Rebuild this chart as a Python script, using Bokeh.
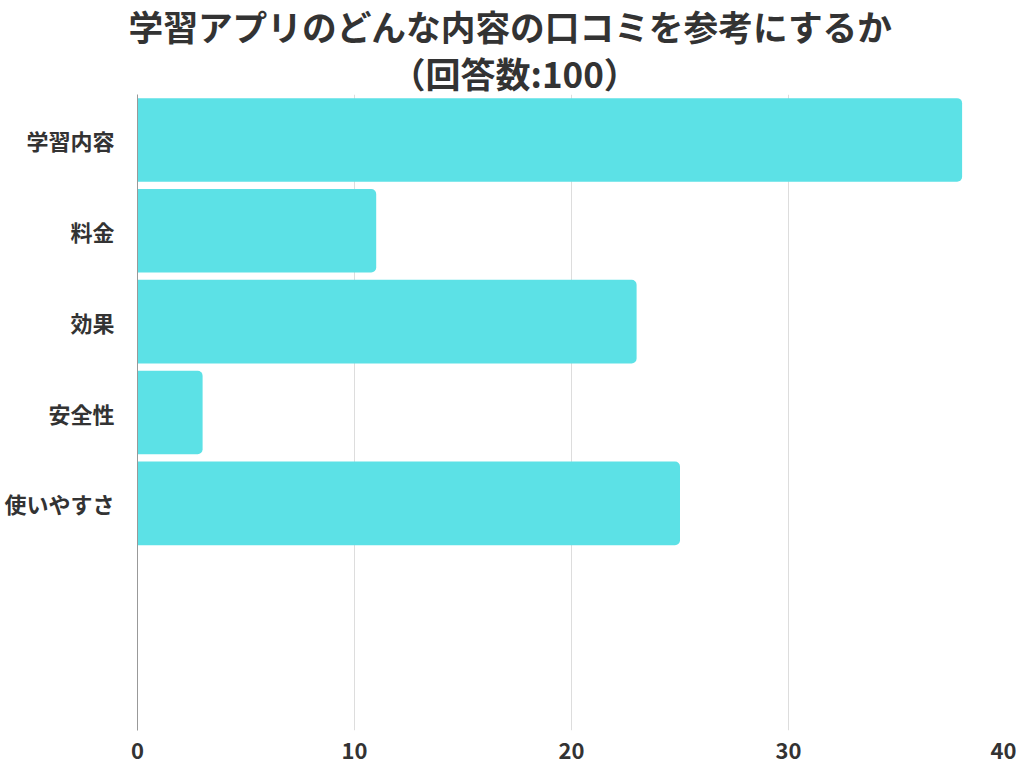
from bokeh.plotting import figure
from bokeh.models import Range1d, FixedTicker, Title, ColumnDataSource
from bokeh.embed import file_html
from bokeh.resources import INLINE

categories = ["学習内容", "料金", "効果", "安全性", "使いやすさ"]
values = [38, 11, 23, 3, 25]
x_ticks = [0, 10, 20, 30, 40]
title_line1 = "学習アプリのどんな内容の口コミを参考にするか"
title_line2 = "（回答数:100）"

positions = list(range(1, len(categories) + 1))
n_slots = 7

src = ColumnDataSource(dict(y=positions, v=values, cat=categories))

p = figure(width=1016, height=764, output_backend="svg", toolbar_location=None,
           x_range=Range1d(0, 40), y_range=Range1d(n_slots + 0.5, 0.5),
           min_border_left=137, min_border_right=11, min_border_bottom=34, min_border_top=0)

FONT = "Noto Sans CJK JP"
TXT = "#333333"

p.add_layout(Title(text=title_line2, align="left", offset=253, text_font=FONT,
                   text_font_size="35px", text_font_style="bold", text_color=TXT,
                   standoff=-7, text_line_height=0.7), "above")
p.add_layout(Title(text=title_line1, align="left", offset=-9, text_font=FONT,
                   text_font_size="34.7px", text_font_style="bold", text_color=TXT,
                   standoff=-4, text_line_height=0.7), "above")

p.hbar(y="y", right="v", left=0, height=0.92, source=src, fill_color="#5CE1E6",
       line_color=None, border_radius=(0, 5, 5, 0))

p.outline_line_color = None
p.background_fill_color = "white"

p.xgrid.ticker = FixedTicker(ticks=[10, 20, 30, 40])
p.xgrid.grid_line_color = "#dddddd"
p.xgrid.grid_line_width = 1
p.ygrid.grid_line_color = None

p.xaxis.ticker = FixedTicker(ticks=x_ticks)
p.xaxis.axis_line_color = None
p.xaxis.major_tick_line_color = None
p.xaxis.minor_tick_line_color = None
p.xaxis.major_label_text_font = FONT
p.xaxis.major_label_text_font_style = "bold"
p.xaxis.major_label_text_font_size = "22px"
p.xaxis.major_label_text_color = TXT
p.xaxis.major_label_standoff = 5

p.yaxis.ticker = FixedTicker(ticks=positions)
p.yaxis.major_label_overrides = {pos: c for pos, c in zip(positions, categories)}
p.yaxis.axis_line_color = "#999999"
p.yaxis.axis_line_width = 1
p.yaxis.major_tick_line_color = None
p.yaxis.minor_tick_line_color = None
p.yaxis.major_label_text_font = FONT
p.yaxis.major_label_text_font_style = "bold"
p.yaxis.major_label_text_font_size = "22px"
p.yaxis.major_label_text_color = TXT
p.yaxis.major_label_standoff = 17

open("out.html", "w").write(file_html(p, INLINE))
